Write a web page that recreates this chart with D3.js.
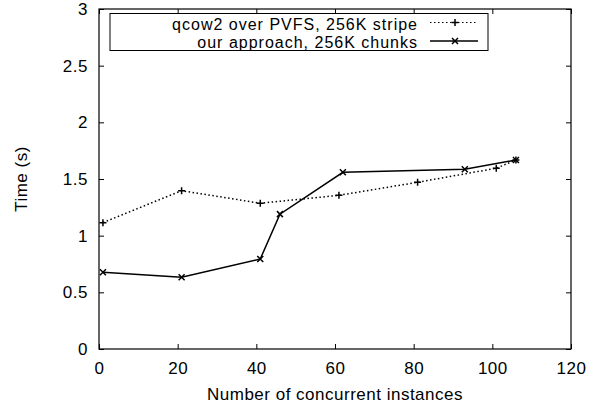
<!DOCTYPE html>
<html>
<head>
<meta charset="utf-8">
<script src="https://cdn.jsdelivr.net/npm/d3@7"></script>
<style>
  body { margin: 0; background: #fff; }
  text { font-family: "Liberation Sans", Arial, Helvetica, sans-serif; font-size: 17px; letter-spacing: 0.5px; fill: #000; }
  .legend text { font-size: 16px; letter-spacing: 1px; }
</style>
</head>
<body>
<div id="chart"></div>
<script>
// Data
var qcowX = [1, 21, 41, 61, 81, 101, 106];
var qcowY = [1.115, 1.397, 1.286, 1.356, 1.471, 1.595, 1.668];
var oursX = [1, 21, 41, 46, 62, 93, 106];
var oursY = [0.677, 0.633, 0.794, 1.19, 1.559, 1.586, 1.668];
var xTicks = [0, 20, 40, 60, 80, 100, 120];
var yTicks = [0, 0.5, 1, 1.5, 2, 2.5, 3];
var seriesNames = ["qcow2 over PVFS, 256K stripe", "our approach, 256K chunks"];

var svgWidth = 607;
var svgHeight = 409;
var margin = { top: 9, right: 36, bottom: 60, left: 99 };
var width = svgWidth - margin.left - margin.right;
var height = svgHeight - margin.top - margin.bottom;

var svg = d3.select("#chart").append("svg")
  .attr("width", svgWidth)
  .attr("height", svgHeight);

var g = svg.append("g")
  .attr("transform", `translate(${margin.left}, ${margin.top})`);

var x = d3.scaleLinear().domain([0, 120]).range([0, width]);
var y = d3.scaleLinear().domain([0, 3]).range([height, 0]);

// inward ticks on all four sides (gnuplot style)
var tickLen = 5;
g.append("g").attr("transform", `translate(0, ${height})`)
  .call(d3.axisBottom(x).tickValues(xTicks).tickSizeInner(-tickLen).tickSizeOuter(0).tickPadding(13))
  .call(a => a.select(".domain").remove());
g.append("g")
  .call(d3.axisTop(x).tickValues(xTicks).tickSizeInner(-tickLen).tickSizeOuter(0).tickFormat(""))
  .call(a => a.select(".domain").remove());
g.append("g")
  .call(d3.axisLeft(y).tickValues(yTicks).tickSizeInner(-tickLen).tickSizeOuter(0).tickPadding(11).tickFormat(d => d))
  .call(a => a.select(".domain").remove());
g.append("g").attr("transform", `translate(${width}, 0)`)
  .call(d3.axisRight(y).tickValues(yTicks).tickSizeInner(-tickLen).tickSizeOuter(0).tickFormat(""))
  .call(a => a.select(".domain").remove());

g.selectAll(".tick line").attr("stroke", "#000").attr("stroke-width", 1);
g.selectAll(".tick text").attr("fill", "#000");

// frame
g.append("rect")
  .attr("x", 0).attr("y", 0)
  .attr("width", width).attr("height", height)
  .attr("fill", "none").attr("stroke", "#000").attr("stroke-width", 1.2);

// axis titles
svg.append("text")
  .attr("x", margin.left + width / 2)
  .attr("y", 400)
  .attr("text-anchor", "middle")
  .text("Number of concurrent instances");

svg.append("text")
  .attr("transform", `translate(27, ${margin.top + height / 2}) rotate(-90)`)
  .attr("text-anchor", "middle")
  .text("Time (s)");

// markers
function plusPath(cx, cy, s) {
  return `M${cx - s},${cy}H${cx + s}M${cx},${cy - s}V${cy + s}`;
}
function crossPath(cx, cy, s) {
  return `M${cx - s},${cy - s}L${cx + s},${cy + s}M${cx - s},${cy + s}L${cx + s},${cy - s}`;
}

var line = d3.line().x(d => x(d[0])).y(d => y(d[1]));
var qcowData = qcowX.map((v, i) => [v, qcowY[i]]);
var oursData = oursX.map((v, i) => [v, oursY[i]]);

g.append("path")
  .datum(qcowData)
  .attr("d", line)
  .attr("fill", "none")
  .attr("stroke", "#000")
  .attr("stroke-width", 1.5)
  .attr("stroke-dasharray", "1.5,2.5");

g.selectAll(".qcow-pt")
  .data(qcowData)
  .enter().append("path")
  .attr("d", d => plusPath(x(d[0]), y(d[1]), 3.5))
  .attr("stroke", "#000")
  .attr("stroke-width", 1.5);

g.append("path")
  .datum(oursData)
  .attr("d", line)
  .attr("fill", "none")
  .attr("stroke", "#000")
  .attr("stroke-width", 1.5);

g.selectAll(".ours-pt")
  .data(oursData)
  .enter().append("path")
  .attr("d", d => crossPath(x(d[0]), y(d[1]), 3))
  .attr("stroke", "#000")
  .attr("stroke-width", 1.5);

// legend
var legend = svg.append("g").attr("class", "legend");
legend.append("rect")
  .attr("x", 110).attr("y", 13.5)
  .attr("width", 378).attr("height", 37)
  .attr("fill", "#fff").attr("stroke", "#000").attr("stroke-width", 1);

var rows = [22.5, 41];
var baselines = [29.5, 48];
seriesNames.forEach(function(name, i) {
  legend.append("text")
    .attr("x", 418)
    .attr("y", baselines[i])
    .attr("text-anchor", "end")
    .text(name);
  legend.append("line")
    .attr("x1", 430).attr("x2", 478)
    .attr("y1", rows[i]).attr("y2", rows[i])
    .attr("stroke", "#000")
    .attr("stroke-width", i === 0 ? 1.2 : 1.5)
    .attr("stroke-dasharray", i === 0 ? "1.5,2.5" : null);
  legend.append("path")
    .attr("d", i === 0 ? plusPath(455, rows[i], 3.5) : crossPath(455, rows[i], 3))
    .attr("stroke", "#000")
    .attr("stroke-width", 1.5);
});
</script>
</body>
</html>
